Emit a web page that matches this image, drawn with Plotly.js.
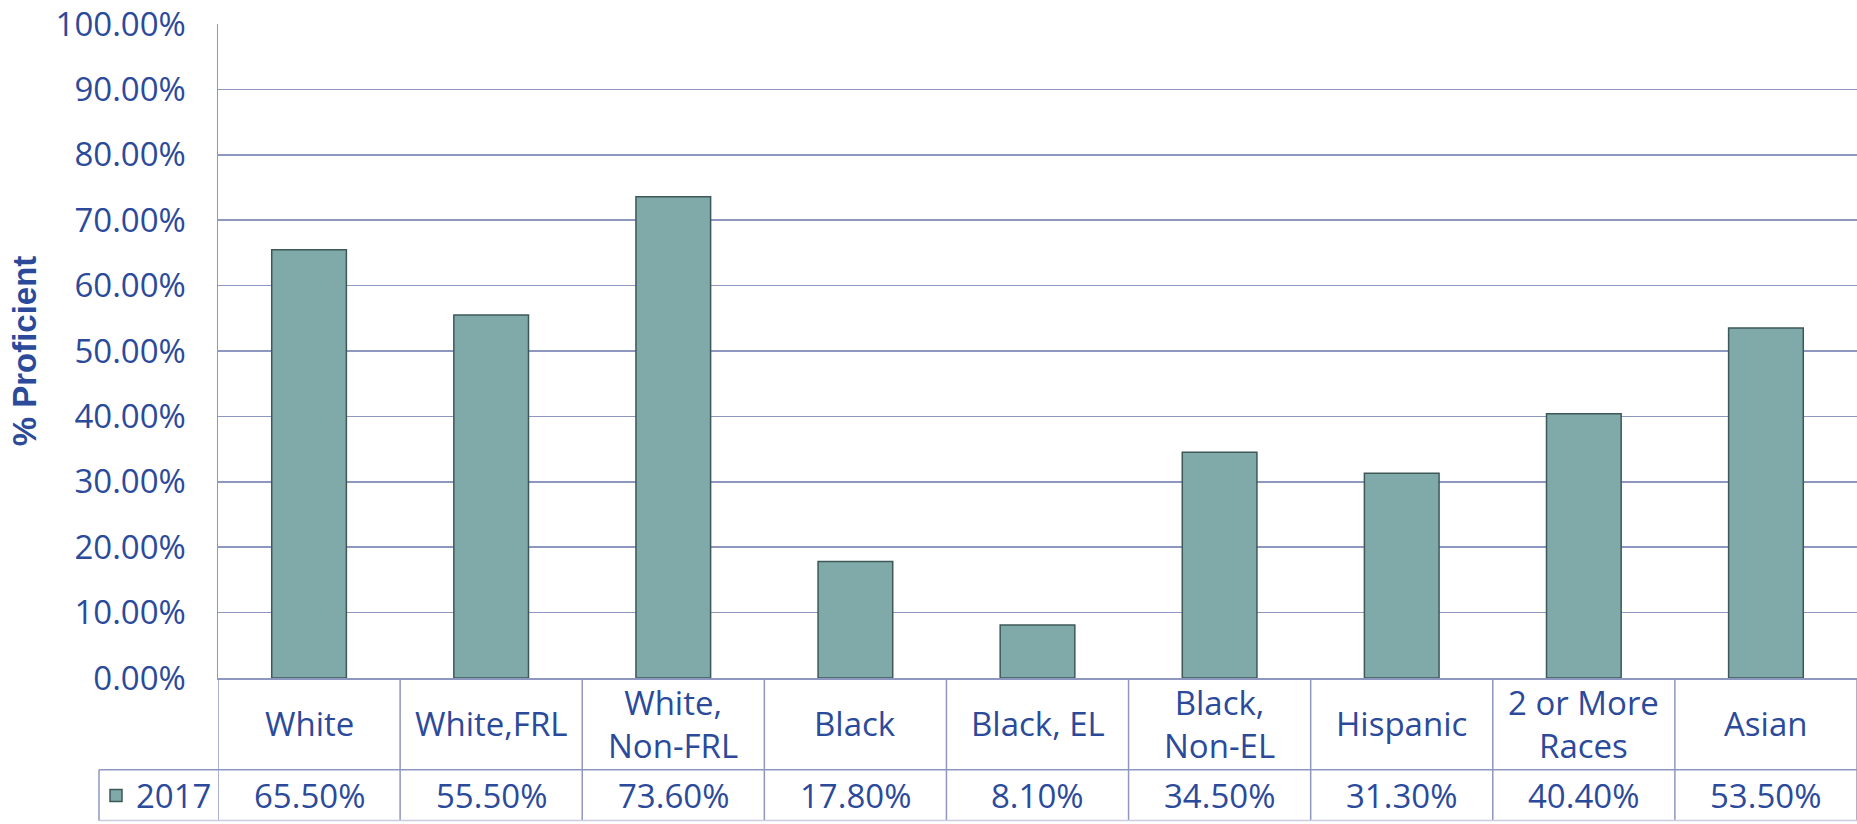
<!DOCTYPE html>
<html>
<head>
<meta charset="utf-8">
<script src="https://cdn.plot.ly/plotly-3.0.1.min.js"></script>
<style>html,body{margin:0;padding:0;background:#fff;}#chart{width:1857px;height:824px;}</style>
</head>
<body>
<div id="chart"></div>
<script>
const categories = ["White", "White,FRL", "White,<br>Non-FRL", "Black", "Black, EL", "Black,<br>Non-EL", "Hispanic", "2 or More<br>Races", "Asian"];
const values2017 = [65.5, 55.5, 73.6, 17.8, 8.1, 34.5, 31.3, 40.4, 53.5];
const seriesName = "2017";
const yTickVals = [0, 10, 20, 30, 40, 50, 60, 70, 80, 90, 100];
const yTickText = yTickVals.map(v => v.toFixed(2) + '%');

const TXT = '#2B4A9A';
const GRID = '#8E97C0';
const FONT = 'Open Sans, DejaVu Sans, sans-serif';
const FS = 33;

const W = 1857, H = 824;
const mL = 218, mR = 0, mT = 24, mB = 144;
const plotH = H - mT - mB;
const px2paperY = p => -(p - (H - mB)) / plotH; // pixel y -> paper y
const px2paperX = p => (p - mL) / (W - mL - mR);

const xIdx = categories.map((c, i) => i);

const trace = {
  type: 'bar',
  name: seriesName,
  x: xIdx,
  y: values2017,
  marker: {color: '#80A9A9', line: {color: '#3E5858', width: 1.5}},
  hoverinfo: 'y',
  showlegend: true
};

const shapes = [];
for (let i = 0; i <= categories.length; i++) {
  shapes.push({type: 'line', xref: 'x', yref: 'paper', x0: i - 0.5, x1: i - 0.5,
    y0: 0, y1: px2paperY(H - 1), line: {color: GRID, width: 1.5}});
}
shapes.push({type: 'line', xref: 'paper', yref: 'paper', x0: px2paperX(99), x1: 1,
  y0: px2paperY(772), y1: px2paperY(772), line: {color: GRID, width: 1.5}});
shapes.push({type: 'line', xref: 'paper', yref: 'paper', x0: px2paperX(99), x1: 1,
  y0: px2paperY(H - 1), y1: px2paperY(H - 1), line: {color: '#C9CCE0', width: 1.5}});
shapes.push({type: 'line', xref: 'paper', yref: 'paper', x0: px2paperX(99), x1: px2paperX(99),
  y0: px2paperY(772), y1: px2paperY(H - 1), line: {color: GRID, width: 1.5}});

const annotations = [];
categories.forEach((c, i) => {
  annotations.push({xref: 'x', yref: 'paper', x: i, y: px2paperY(726), text: c,
    showarrow: false, xanchor: 'center', yanchor: 'middle',
    font: {family: FONT, size: FS, color: TXT}});
  annotations.push({xref: 'x', yref: 'paper', x: i, y: px2paperY(798),
    text: values2017[i].toFixed(2) + '%',
    showarrow: false, xanchor: 'center', yanchor: 'middle',
    font: {family: FONT, size: FS, color: TXT}});
});

const layout = {
  width: W, height: H,
  margin: {l: mL, r: mR, t: mT, b: mB, pad: 0},
  paper_bgcolor: '#ffffff',
  plot_bgcolor: '#ffffff',
  bargap: 0.59,
  showlegend: true,
  legend: {x: px2paperX(96), y: px2paperY(798), xanchor: 'left', yanchor: 'middle',
    font: {family: FONT, size: FS, color: TXT}, bgcolor: 'rgba(0,0,0,0)',
    itemwidth: 30, tracegroupgap: 0},
  xaxis: {
    type: 'linear', range: [-0.5, categories.length - 0.5],
    showticklabels: false, showgrid: false, zeroline: false,
    showline: true, linecolor: GRID, linewidth: 1.5, ticks: '', fixedrange: true
  },
  yaxis: {
    range: [0, 100], tickmode: 'array', tickvals: yTickVals, ticktext: yTickText,
    showgrid: true, gridcolor: GRID, gridwidth: 1.5,
    showline: true, linecolor: GRID, linewidth: 1.5,
    zeroline: false, ticks: '', ticklabelstandoff: 24,
    tickfont: {family: FONT, size: FS, color: TXT},
    title: {text: '% Proficient', standoff: 9,
      font: {family: 'Liberation Sans, Arial, sans-serif', size: 33, color: TXT, weight: 'bold'}},
    automargin: true, fixedrange: true
  },
  shapes: shapes,
  annotations: annotations
};

Plotly.newPlot('chart', [trace], layout, {displayModeBar: false, staticPlot: true});
</script>
</body>
</html>
